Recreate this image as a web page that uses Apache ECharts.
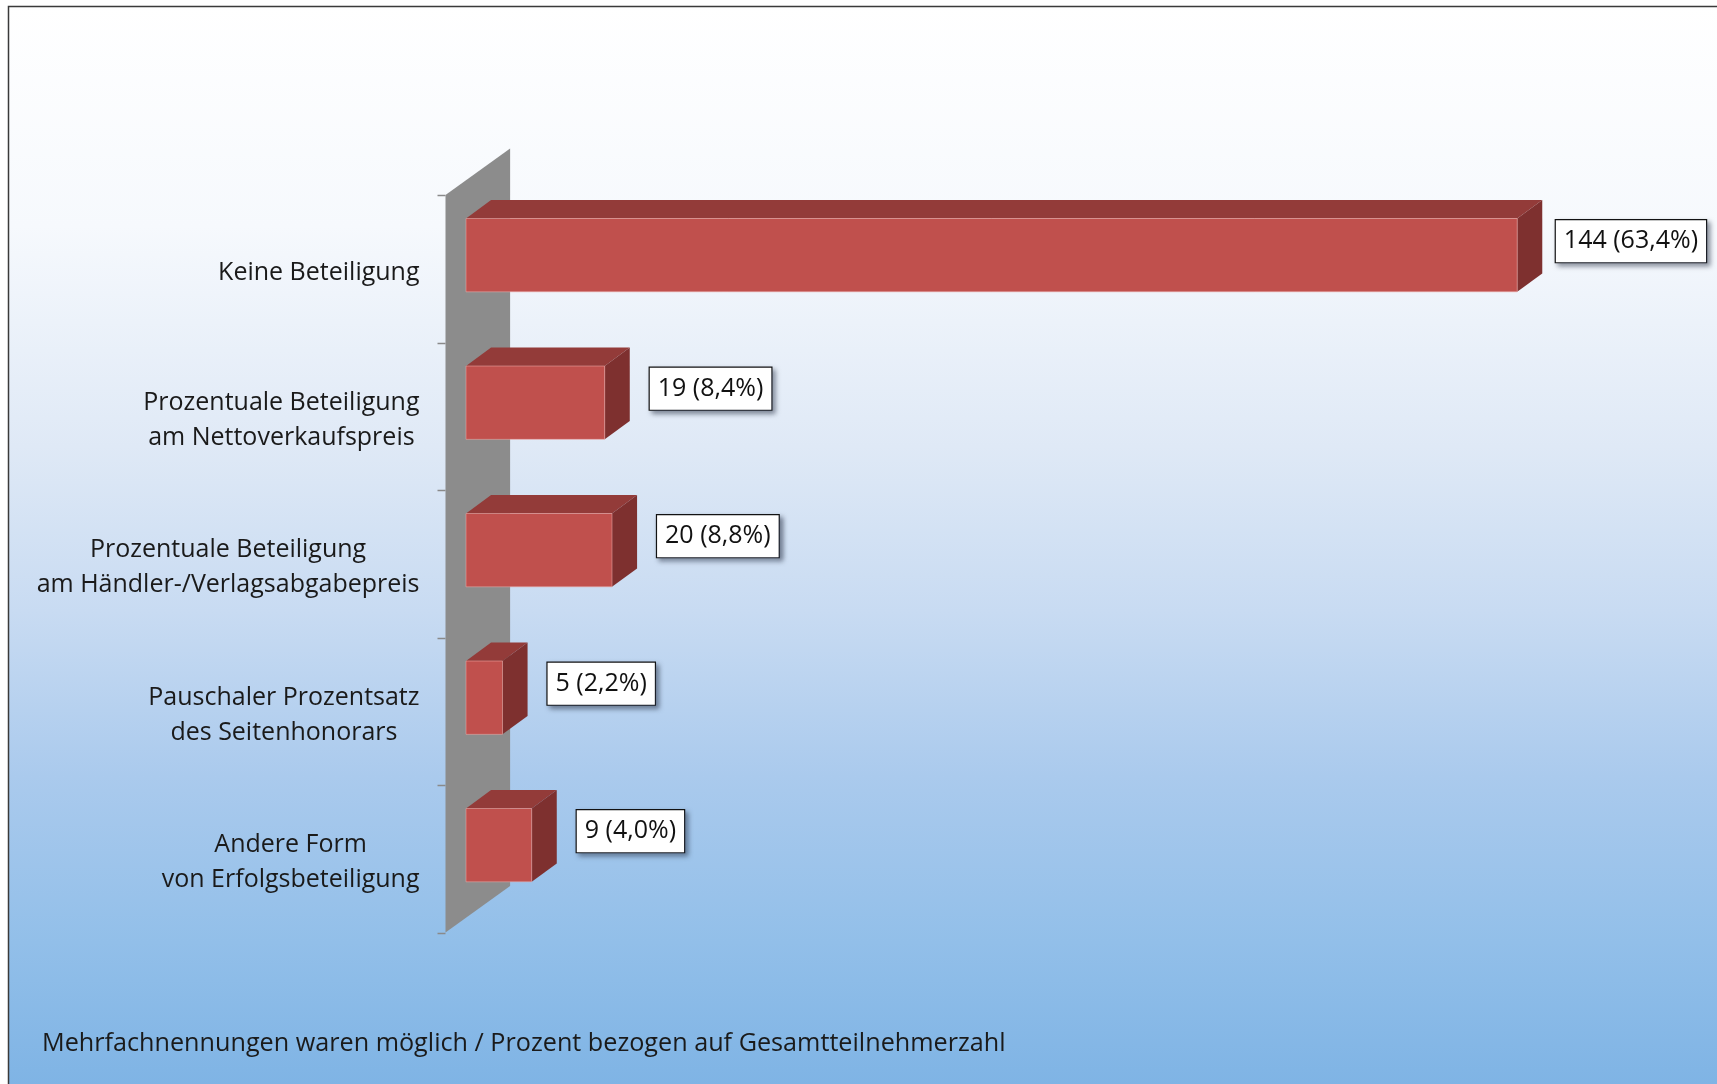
<!DOCTYPE html>
<html>
<head>
<meta charset="utf-8">
<script src="https://cdn.jsdelivr.net/npm/echarts@6/dist/echarts.min.js"></script>
<style>
  html, body { margin: 0; padding: 0; background: #ffffff; }
  #chart { width: 1717px; height: 1084px; }
</style>
</head>
<body>
<div id="chart"></div>
<script>
// Survey answers: form of profit participation
const categories = [
  'Keine Beteiligung',
  'Prozentuale Beteiligung\nam Nettoverkaufspreis',
  'Prozentuale Beteiligung\nam Händler-/Verlagsabgabepreis',
  'Pauschaler Prozentsatz\ndes Seitenhonorars',
  'Andere Form\nvon Erfolgsbeteiligung'
];
const counts = [144, 19, 20, 5, 9];
const shares = ['63,4', '8,4', '8,8', '2,2', '4,0'];
const footnote = 'Mehrfachnennungen waren möglich / Prozent bezogen auf Gesamtteilnehmerzahl';

const FONT = '"Open Sans", "Noto Sans", sans-serif';
const WALL_OFFSET = 20.5;   // wall front edge sits left of the bar origin

const chart = echarts.init(document.getElementById('chart'), null, { renderer: 'canvas' });

// text width measurement for label placement
const measureCtx = document.createElement('canvas').getContext('2d');
function textWidth(str, size) {
  measureCtx.font = size + 'px ' + FONT;
  return measureCtx.measureText(str).width;
}

function labelText(i) {
  return counts[i] + ' (' + shares[i] + '%)';
}

// 3D box bar: front face, top face, right side face + value box
function renderBar(params, api) {
  const v = api.value(0);
  const c = api.value(1);
  const origin = api.coord([0, c]);
  const end = api.coord([v, c]);
  const band = api.size([0, 1])[1];
  const h = band * 0.497;
  const cy = origin[1] - band * 0.092;
  const dx = band * 0.17;
  const dy = band * 0.125;
  const x0 = origin[0], x1 = end[0];
  const yT = cy - h / 2, yB = cy + h / 2;

  const txt = labelText(params.dataIndex);
  const boxW = textWidth(txt, 25) + 17;
  let lx = x1 + dx + 20;
  const maxRight = api.getWidth() - 10;
  if (lx + boxW > maxRight) lx = maxRight - boxW;

  return {
    type: 'group',
    children: [
      {
        type: 'polygon',
        shape: { points: [[x0, yT], [x0 + dx, yT - dy], [x1 + dx, yT - dy], [x1, yT]] },
        style: { fill: '#933b39' }
      },
      {
        type: 'polygon',
        shape: { points: [[x1, yT], [x1 + dx, yT - dy], [x1 + dx, yB - dy], [x1, yB]] },
        style: { fill: '#7e302f' }
      },
      {
        type: 'rect',
        shape: { x: x0, y: yT, width: x1 - x0, height: h },
        style: { fill: '#c0504d', stroke: 'rgba(235,170,168,0.55)', lineWidth: 1 }
      },
      {
        type: 'text',
        x: lx,
        y: cy - band * 0.095,
        style: {
          text: txt,
          font: '25px ' + FONT,
          fill: '#111111',
          align: 'left',
          verticalAlign: 'middle',
          lineHeight: 30,
          padding: [6, 8, 6, 8],
          backgroundColor: '#ffffff',
          borderColor: '#111111',
          borderWidth: 1.2,
          shadowColor: 'rgba(40,50,70,0.55)',
          shadowBlur: 5,
          shadowOffsetX: 3,
          shadowOffsetY: 3
        },
        z2: 10
      }
    ]
  };
}

// grey side wall behind the bars, with tick marks at the category boundaries
function renderWall(params, api) {
  const cs = params.coordSys;
  const band = api.size([0, 1])[1];
  const dx = band * 0.438;
  const dy = band * 0.316;
  const xw = cs.x - WALL_OFFSET;
  const top = cs.y, bottom = cs.y + cs.height;
  const children = [{
    type: 'polygon',
    shape: { points: [[xw, top], [xw + dx, top - dy], [xw + dx, bottom - dy], [xw, bottom]] },
    style: { fill: '#8c8c8c' }
  }];
  for (let k = 0; k <= categories.length; k++) {
    const y = api.coord([0, Math.min(k, categories.length - 1)])[1] + (k === categories.length ? band / 2 : -band / 2);
    const yy = Math.round(y) + 0.5;
    children.push({
      type: 'line',
      shape: { x1: xw - 8, y1: yy, x2: xw, y2: yy },
      style: { stroke: '#8a8a8a', lineWidth: 1.5 }
    });
  }
  return { type: 'group', children: children };
}

const option = {
  animation: false,
  graphic: [
    {
      type: 'rect',
      z: -10,
      shape: { x: 8.5, y: 6.5, width: 1730, height: 1100 },
      style: {
        stroke: '#3a3a3a',
        lineWidth: 1.5,
        fill: new echarts.graphic.LinearGradient(0, 0, 0, 1, [
          { offset: 0, color: '#ffffff' },
          { offset: 0.2, color: '#f6f9fd' },
          { offset: 0.4, color: '#dfe9f6' },
          { offset: 0.55, color: '#c8dbf2' },
          { offset: 0.7, color: '#aacaed' },
          { offset: 0.85, color: '#92bfe9' },
          { offset: 1, color: '#7cb2e4' }
        ])
      }
    },
    {
      type: 'text',
      z: 5,
      left: 42,
      top: 1031,
      style: {
        text: footnote,
        font: '25.2px ' + FONT,
        fill: '#1a1a1a'
      }
    }
  ],
  grid: { left: 466, top: 195, right: 83, bottom: 151.5, containLabel: false },
  xAxis: {
    type: 'value',
    min: 0,
    max: 160,
    show: false
  },
  yAxis: {
    type: 'category',
    inverse: true,
    data: categories,
    offset: WALL_OFFSET,
    axisLine: { show: false },
    axisTick: { show: false },
    splitLine: { show: false },
    axisLabel: {
      margin: 26,
      align: 'right',
      padding: [8, 0, 0, 0],
      formatter: function (v) { return '{c|' + v + '}'; },
      rich: {
        c: {
          align: 'center',
          fontFamily: FONT,
          fontSize: 25,
          lineHeight: 35,
          color: '#1a1a1a'
        }
      }
    }
  },
  series: [
    {
      type: 'custom',
      name: 'wall',
      z: 1,
      renderItem: renderWall,
      data: [[0, 0]],
      encode: { x: 0, y: 1 },
      silent: true
    },
    {
      type: 'custom',
      name: 'Antworten',
      z: 3,
      renderItem: renderBar,
      data: counts.map(function (v, i) { return [v, i]; }),
      encode: { x: 0, y: 1 }
    }
  ]
};

chart.setOption(option);
</script>
</body>
</html>
